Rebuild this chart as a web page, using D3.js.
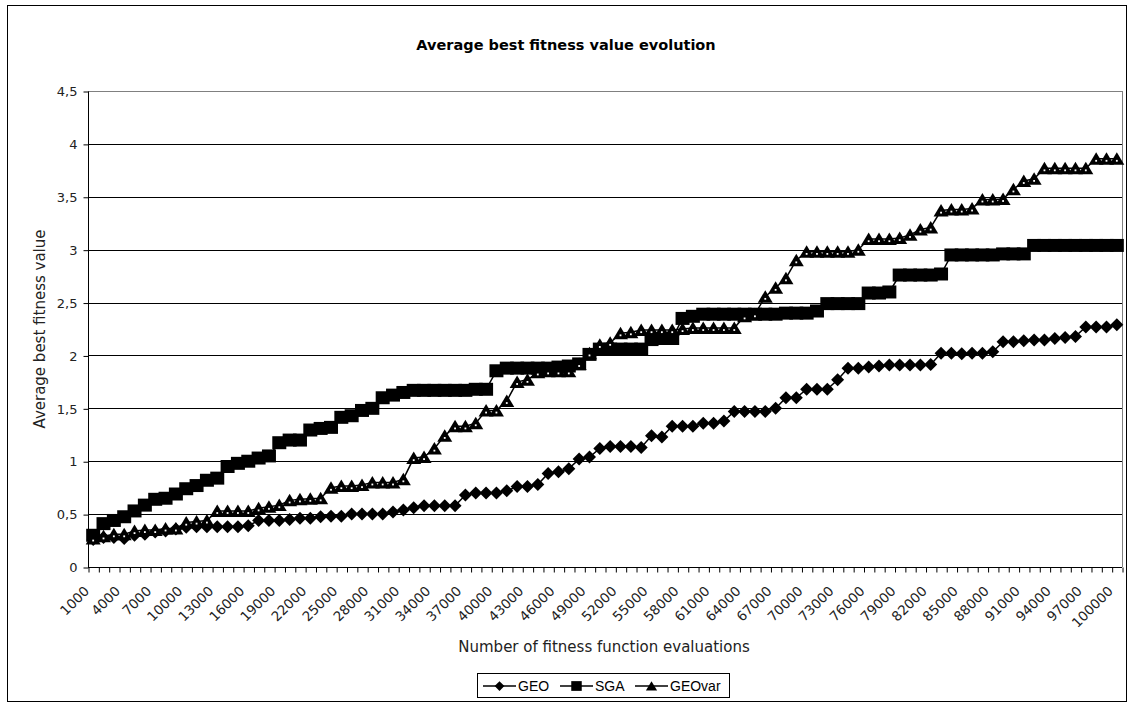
<!DOCTYPE html>
<html>
<head>
<meta charset="utf-8">
<script src="https://cdn.jsdelivr.net/npm/d3@7"></script>
<style>
	body { margin: 0; background: #fff; }
	text { font-family: "DejaVu Sans", Verdana, sans-serif; }
</style>
</head>
<body>
<svg id="svg"></svg>
<script>
var width = 1128, height = 704;

// data
var evaluations = d3.range(1, 101).map(function (k) { return k * 1000; });
var seriesNames = ["GEO", "SGA", "GEOvar"];
var geo = [0.26,0.28,0.28,0.27,0.30,0.31,0.33,0.34,0.36,0.375,
	0.38,0.38,0.38,0.38,0.38,0.39,0.44,0.44,0.44,0.45,
	0.46,0.46,0.475,0.48,0.48,0.50,0.50,0.50,0.50,0.52,
	0.54,0.56,0.58,0.58,0.58,0.58,0.68,0.70,0.70,0.70,
	0.72,0.76,0.76,0.78,0.885,0.90,0.93,1.02,1.04,1.12,
	1.14,1.14,1.14,1.13,1.24,1.23,1.33,1.33,1.33,1.36,
	1.36,1.38,1.47,1.47,1.47,1.47,1.50,1.60,1.60,1.68,
	1.68,1.68,1.77,1.88,1.88,1.89,1.90,1.91,1.91,1.91,
	1.91,1.915,2.02,2.02,2.015,2.02,2.02,2.035,2.13,2.13,
	2.14,2.145,2.145,2.16,2.17,2.18,2.27,2.27,2.27,2.29];
var sga = [0.30,0.41,0.44,0.475,0.53,0.585,0.64,0.65,0.69,0.74,
	0.77,0.82,0.84,0.95,0.98,1.00,1.03,1.05,1.175,1.20,
	1.20,1.295,1.31,1.32,1.415,1.43,1.48,1.50,1.60,1.625,
	1.65,1.67,1.67,1.67,1.67,1.67,1.67,1.68,1.68,1.855,
	1.88,1.88,1.88,1.88,1.88,1.89,1.90,1.92,2.01,2.06,
	2.06,2.06,2.06,2.06,2.15,2.16,2.16,2.35,2.37,2.39,
	2.39,2.39,2.39,2.39,2.39,2.39,2.39,2.40,2.40,2.40,
	2.42,2.49,2.49,2.49,2.49,2.59,2.59,2.60,2.76,2.76,
	2.76,2.76,2.77,2.95,2.95,2.95,2.95,2.95,2.96,2.96,
	2.96,3.04,3.04,3.04,3.04,3.04,3.04,3.04,3.04,3.04];
var geoVar = [0.27,0.29,0.31,0.31,0.34,0.35,0.35,0.365,0.365,0.42,
	0.43,0.44,0.53,0.53,0.53,0.53,0.555,0.57,0.585,0.63,
	0.64,0.645,0.65,0.75,0.765,0.765,0.775,0.80,0.80,0.80,
	0.83,1.03,1.04,1.12,1.24,1.33,1.33,1.36,1.48,1.48,
	1.57,1.75,1.77,1.84,1.85,1.85,1.85,1.92,2.02,2.10,
	2.12,2.21,2.22,2.24,2.24,2.24,2.24,2.25,2.26,2.26,
	2.26,2.26,2.26,2.37,2.39,2.555,2.64,2.73,2.90,2.98,
	2.98,2.98,2.98,2.98,3.00,3.10,3.10,3.10,3.11,3.14,
	3.19,3.21,3.37,3.38,3.38,3.39,3.475,3.475,3.48,3.57,
	3.65,3.67,3.77,3.77,3.77,3.77,3.77,3.86,3.86,3.86];
var yTicks = [0, 0.5, 1, 1.5, 2, 2.5, 3, 3.5, 4, 4.5];

var plotLeft = 88, plotRight = 1122, plotTop = 91, plotBottom = 567;

var svg = d3.select("#svg")
	.attr("width", width)
	.attr("height", height);

svg.append("rect")
	.attr("x", 7.5).attr("y", 5.5)
	.attr("width", 1119).attr("height", 696)
	.attr("fill", "#fff")
	.attr("stroke", "#000");

var x = d3.scaleBand()
	.domain(d3.range(evaluations.length))
	.range([plotLeft, plotRight]);
var xEdge = d3.scaleLinear()
	.domain([0, evaluations.length])
	.range([plotLeft, plotRight]);
var y = d3.scaleLinear()
	.domain([0, 4.5])
	.range([plotBottom, plotTop]);

function cx(i) { return x(i) + x.bandwidth() / 2; }

// gridlines
svg.append("g")
	.selectAll("line")
	.data(yTicks.slice(1))
	.enter()
	.append("line")
	.attr("x1", plotLeft).attr("x2", plotRight)
	.attr("y1", function (d) { return Math.round(y(d)) + 0.5; })
	.attr("y2", function (d) { return Math.round(y(d)) + 0.5; })
	.attr("stroke", function (d) { return d == 4.5 ? "#808080" : "#000"; });
svg.append("line")
	.attr("x1", plotRight + 0.5).attr("x2", plotRight + 0.5)
	.attr("y1", plotTop).attr("y2", plotBottom)
	.attr("stroke", "#808080");

// axes
var yAxis = d3.axisLeft(y)
	.tickValues(yTicks)
	.tickSize(5)
	.tickPadding(6)
	.tickFormat(function (d) { return String(d).replace(".", ","); });
var gy = svg.append("g")
	.attr("transform", "translate(" + (plotLeft + 0.5) + ",0.5)")
	.call(yAxis);
gy.select(".domain").attr("d", "M0," + plotTop + "V" + plotBottom);
gy.selectAll("text")
	.style("font-family", "'DejaVu Sans', Verdana, sans-serif")
	.style("font-size", "13px")
	.attr("fill", "#222");

var xTicks = d3.axisBottom(xEdge)
	.tickValues(d3.range(evaluations.length + 1))
	.tickSize(5)
	.tickFormat("");
var gx = svg.append("g")
	.attr("transform", "translate(0," + (plotBottom + 0.5) + ")")
	.call(xTicks);
gx.select(".domain").attr("d", "M" + plotLeft + ",0H" + plotRight);
gx.selectAll(".tick line").attr("transform", "translate(0.5,0)");

svg.append("g")
	.selectAll("text")
	.data(d3.range(0, evaluations.length, 3))
	.enter()
	.append("text")
	.attr("transform", function (i) { return "translate(" + (cx(i) - 3) + "," + (plotBottom + 25) + ") rotate(-45)"; })
	.attr("text-anchor", "end")
	.style("font-size", "13.5px")
	.attr("fill", "#222")
	.text(function (i) { return evaluations[i]; });

// series
var series = [
	{ name: seriesNames[0], values: geo, shape: "diamond" },
	{ name: seriesNames[1], values: sga, shape: "square" },
	{ name: seriesNames[2], values: geoVar, shape: "triangle" }
];
var marker = {
	diamond: "M0,-6.5L6.5,0L0,6.5L-6.5,0Z",
	square: "M-7,-6.5H7V6.5H-7Z",
	triangle: "M0,-6.5L7.5,6L-7.5,6Z"
};

var line = d3.line()
	.x(function (d, i) { return cx(i); })
	.y(function (d) { return y(d); });

series.forEach(function (s) {
	var g = svg.append("g");
	g.append("path")
		.attr("d", line(s.values))
		.attr("fill", "none")
		.attr("stroke", "#000")
		.attr("stroke-width", 1.5);
	var m = g.selectAll("g")
		.data(s.values)
		.enter()
		.append("g")
		.attr("transform", function (d, i) { return "translate(" + cx(i) + "," + y(d) + ")"; });
	m.append("path")
		.attr("d", marker[s.shape])
		.attr("fill", "#000");
	if (s.shape == "triangle") {
		m.append("rect")
			.attr("x", -0.9).attr("y", 1.2)
			.attr("width", 1.8).attr("height", 1.8)
			.attr("fill", "#fff");
	}
});

// titles
svg.append("text")
	.attr("x", 566).attr("y", 50)
	.attr("text-anchor", "middle")
	.style("font-size", "14.5px")
	.style("font-weight", "bold")
	.text("Average best fitness value evolution");
svg.append("text")
	.attr("transform", "translate(45,329) rotate(-90)")
	.attr("text-anchor", "middle")
	.style("font-size", "15px")
	.attr("fill", "#222")
	.text("Average best fitness value");
svg.append("text")
	.attr("x", 604).attr("y", 652)
	.attr("text-anchor", "middle")
	.style("font-size", "15px")
	.attr("fill", "#222")
	.text("Number of fitness function evaluations");

// legend
var legend = svg.append("g");
legend.append("rect")
	.attr("x", 477.5).attr("y", 673.5)
	.attr("width", 252).attr("height", 24)
	.attr("fill", "#fff")
	.attr("stroke", "#000");
var legendX = [483, 560, 635];
series.forEach(function (s, k) {
	var g = legend.append("g")
		.attr("transform", "translate(" + legendX[k] + ",686)");
	g.append("line")
		.attr("x1", 0).attr("x2", 33)
		.attr("stroke", "#000").attr("stroke-width", 1.5);
	g.append("path")
		.attr("d", marker[s.shape])
		.attr("transform", "translate(16.5,0) scale(0.75)")
		.attr("fill", "#000");
	g.append("text")
		.attr("x", 35).attr("y", 5)
		.style("font-family", "'Liberation Sans', Arial, sans-serif")
		.style("font-size", "14px")
		.text(s.name);
});
</script>
</body>
</html>
